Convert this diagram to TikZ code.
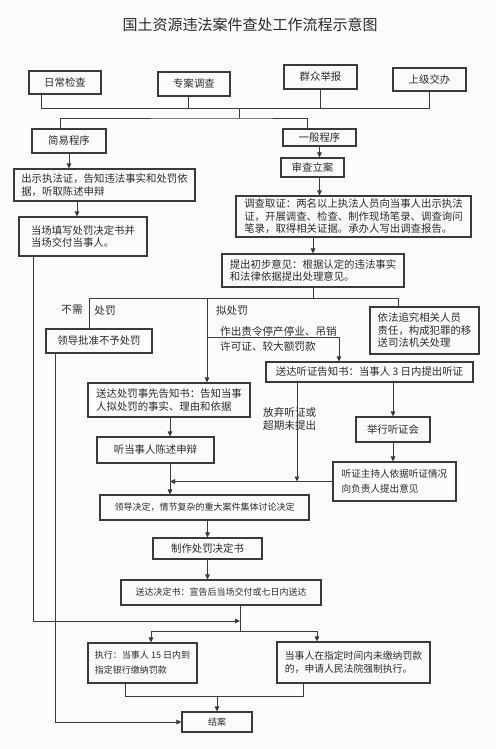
\documentclass[tikz,border=0pt]{standalone}
\usepackage{fontspec}
\usepackage{tikz}
\usetikzlibrary{arrows.meta}
\newfontfamily\cjk{Noto Sans CJK SC}
\definecolor{paper}{HTML}{FBFBFC}
\definecolor{ink}{HTML}{2A2A2A}
\definecolor{wire}{HTML}{3A3A3A}

\begin{document}
\begin{tikzpicture}[
  x=1pt, y=-1pt,
  stage/.style={draw=wire, line width=1.1pt, inner sep=2pt, align=left, text=ink,
                font=\cjk\fontsize{10.4}{12.5}\selectfont},
  small/.style={font=\cjk\fontsize{9.6}{15}\selectfont},
  note/.style={inner sep=0pt, align=left, text=ink, font=\cjk\fontsize{10.6}{13}\selectfont},
  title/.style={text=ink, font=\cjk\fontsize{15}{18}\selectfont},
  link/.style={draw=wire, line width=0.9pt},
  flow/.style={link, -{Triangle[length=5pt, width=4.5pt]}},
]

\useasboundingbox[fill=paper] (0,0) rectangle (495,749);

\node[title] (head) at (250,25) {国土资源违法案件查处工作流程示意图};

\node[stage, minimum width=72pt, minimum height=23pt] (rc) at (65,82.5) {日常检查};
\node[stage, minimum width=72pt, minimum height=24pt] (za) at (194,84) {专案调查};
\node[stage, minimum width=73pt, minimum height=24pt] (qz) at (320.5,77) {群众举报};
\node[stage, minimum width=73pt, minimum height=23pt] (sj) at (429.5,79.5) {上级交办};

\node[stage, minimum width=74pt, minimum height=24pt] (jy) at (69,141) {简易程序};
\node[stage, minimum width=181pt, minimum height=32pt] (cs) at (104.5,185)
  {出示执法证，告知违法事实和处罚依\\据，听取陈述申辩};
\node[stage, minimum width=128pt, minimum height=39pt] (dc) at (83,236.5)
  {当场填写处罚决定书并\\当场交付当事人。};

\node[stage, minimum width=73pt, minimum height=17pt] (yb) at (319.5,137.5) {一般程序};
\node[stage, minimum width=63pt, minimum height=19pt] (sc) at (312.5,167.5) {审查立案};
\node[stage, minimum width=235pt, minimum height=41pt] (dq) at (353.5,216.5)
  {调查取证：两名以上执法人员向当事人出示执法\\证，开展调查、检查、制作现场笔录、调查询问\\笔录，取得相关证据。承办人写出调查报告。};
\node[stage, minimum width=182pt, minimum height=33pt] (tc) at (313,270.5)
  {提出初步意见：根据认定的违法事实\\和法律依据提出处理意见。};

\node[stage, minimum width=106pt, minimum height=24pt] (ld) at (99,341) {领导批准不予处罚};
\node[stage, minimum width=109pt, minimum height=47pt] (yf) at (424.5,330.5)
  {依法追究相关人员\\责任，构成犯罪的移\\送司法机关处理};
\node[stage, minimum width=207pt, minimum height=20pt] (tz) at (369.5,372)
  {送达听证告知书：当事人 3 日内提出听证};
\node[stage, minimum width=162pt, minimum height=34pt] (ss) at (169,400)
  {送达处罚事先告知书：告知当事\\人拟处罚的事实、理由和依据};
\node[stage, minimum width=74pt, minimum height=25pt] (jx) at (393,429.5) {举行听证会};
\node[stage, minimum width=117pt, minimum height=26pt] (ts) at (155.5,450) {听当事人陈述申辩};
\node[stage, small, minimum width=123pt, minimum height=39pt] (zc) at (394.5,481.5)
  {听证主持人依据听证情况\\向负责人提出意见};

\node[stage, minimum width=209pt, minimum height=25pt, font=\cjk\fontsize{9}{11}\selectfont] (jd) at (204.5,507.5)
  {领导决定，情节复杂的重大案件集体讨论决定};
\node[stage, minimum width=109pt, minimum height=21pt] (zz) at (207.5,548.5) {制作处罚决定书};
\node[stage, minimum width=200pt, minimum height=25pt, font=\cjk\fontsize{9}{11}\selectfont] (sd) at (221,592.5)
  {送达决定书：宣告后当场交付或七日内送达};
\node[stage, minimum width=109pt, minimum height=40pt, font=\cjk\fontsize{9}{15}\selectfont] (zx) at (142.5,663)
  {执行：当事人 15 日内到\\指定银行缴纳罚款};
\node[stage, minimum width=153pt, minimum height=41pt, font=\cjk\fontsize{9.8}{12.5}\selectfont] (wj) at (353.5,662.5)
  {当事人在指定时间内未缴纳罚款\\的，申请人民法院强制执行。};
\node[stage, minimum width=70pt, minimum height=20pt, font=\cjk\fontsize{9}{11}\selectfont] (ja) at (217,722) {结案};

\node[note] (lbno) at (72,310) {不需};
\node[note] (lbpen) at (105,310) {处罚};
\node[note] (lbdraft) at (232,310) {拟处罚};
\node[note, anchor=west] (lbheavy1) at (220,331) {作出责令停产停业、吊销};
\node[note, anchor=west] (lbheavy2) at (220,346) {许可证、较大额罚款};
\node[note, anchor=west] (lbwaive) at (263,418.5) {放弃听证或\\超期未提出};

\coordinate (bus1) at (239,108);
\coordinate (bus2) at (239,118);
\coordinate (rcout) at ([xshift=-24pt]rc.south);
\coordinate (zaout) at ([xshift=-6pt]za.south);
\coordinate (jyin) at ([xshift=-9pt]jy.north);
\coordinate (ybin) at ([xshift=-12.5pt]yb.north);
\draw[link] (rcout) |- (sj.south |- bus1) -- (sj.south);
\draw[link] (zaout) -- (zaout |- bus1);
\draw[link] (qz.south) -- (qz.south |- bus1);
\draw[link] (bus1) -- (bus2);
\draw[link] (jyin) |- (bus2) -| (ybin);

\coordinate (dcin) at ([xshift=-6pt]dc.north);
\draw[flow] (jy.south) -- (jy.south |- cs.north);
\draw[flow] (cs.south -| dcin) -- (dcin);

\draw[flow] (yb.south) -- (yb.south |- sc.north);
\draw[flow] (yb.south |- sc.south) -- (yb.south |- dq.north);
\draw[flow] (dq.south -| tc.north) -- (tc.north);

\coordinate (bus3) at (313,298);
\coordinate (bus3L) at (89,298);
\coordinate (bus3R) at (398,298);
\coordinate (pen) at (207,298);
\coordinate (heavy) at (207,337);
\coordinate (tzin) at ([xshift=-30.5pt]tz.north);
\draw[link] (tc.south) -- (bus3);
\draw[link] (ld.north -| bus3L) |- (bus3R) -- (yf.north -| bus3R);
\draw[flow] (pen) -- (ss.north -| pen);
\draw[flow] (heavy) -| (tzin);

\coordinate (col) at (170,450);
\coordinate (waive) at ([xshift=-72.5pt]tz.south);
\draw[flow] (waive) -- (waive |- zc.west);
\draw[flow] (tz.south -| jx.north) -- (jx.north);
\draw[flow] (jx.south) -- (jx.south |- zc.north);
\draw[flow] (zc.west) -- (zc.west -| col);
\draw[flow] (ss.south -| col) -- (ts.north -| col);
\draw[flow] (ts.south -| col) -- (jd.north -| col);

\draw[flow] (jd.south -| zz.north) -- (zz.north);
\draw[flow] (zz.south) -- (zz.south |- sd.north);

\coordinate (fork) at (240,631);
\coordinate (ret) at (240,621);
\coordinate (dcout) at ([xshift=-50pt]dc.south);
\coordinate (zxin) at ([xshift=8.5pt]zx.north);
\coordinate (wjin) at ([xshift=-36.5pt]wj.north);
\draw[link] (sd.south -| fork) -- (fork);
\draw[flow] (fork) -| (zxin);
\draw[flow] (fork) -| (wjin);
\draw[flow] (dcout) |- (ret);

\coordinate (join) at (219,696);
\coordinate (zxout) at ([xshift=-17.5pt]zx.south);
\coordinate (wjout) at ([xshift=-50.5pt]wj.south);
\coordinate (ldout) at ([xshift=-44pt]ld.south);
\draw[link] (zxout) |- (wjout |- join) -- (wjout);
\draw[flow] (ja.north |- join) -- (ja.north);
\draw[flow] (ldout) |- (ja.west);

\end{tikzpicture}
\end{document}
